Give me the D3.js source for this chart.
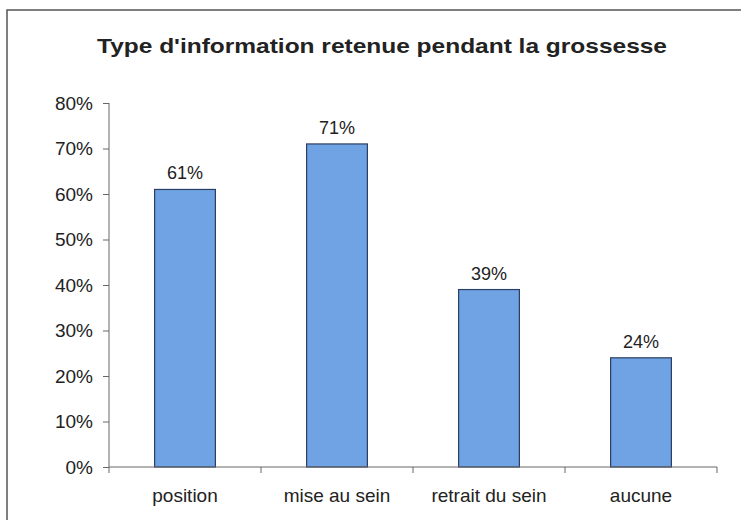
<!DOCTYPE html>
<html>
<head>
<meta charset="utf-8">
<script src="https://cdn.jsdelivr.net/npm/d3@7"></script>
<style>
  body { margin: 0; background: #fff; }
  text { font-family: Arial, "Liberation Sans", sans-serif; fill: #222; }
</style>
</head>
<body>
<script>
var categories = ["position", "mise au sein", "retrait du sein", "aucune"];
var values = [61, 71, 39, 24];
var yTicks = [0, 10, 20, 30, 40, 50, 60, 70, 80];
var title = "Type d'information retenue pendant la grossesse";

var w = 741, h = 520;
var svg = d3.select("body").append("svg")
  .attr("width", w)
  .attr("height", h);

svg.append("rect")
  .attr("width", w).attr("height", h)
  .attr("fill", "#fff");

// outer frame (runs off the right/bottom edge like the scan)
svg.append("rect")
  .attr("x", 7).attr("y", 10)
  .attr("width", 760).attr("height", 540)
  .attr("fill", "none")
  .attr("stroke", "#555")
  .attr("stroke-width", 1.5);

svg.append("text")
  .attr("x", 382).attr("y", 53)
  .attr("text-anchor", "middle")
  .attr("textLength", 570)
  .attr("lengthAdjust", "spacingAndGlyphs")
  .style("font-size", "21px")
  .style("font-weight", "bold")
  .text(title);

var x = d3.scaleBand()
  .domain(categories)
  .range([109, 717])
  .paddingInner(0.6)
  .paddingOuter(0.3);

var y = d3.scaleLinear()
  .domain([0, 80])
  .range([467, 103]);

// bars
svg.append("g").selectAll("rect")
  .data(values)
  .enter().append("rect")
  .attr("x", function (d, i) { return x(categories[i]); })
  .attr("y", function (d) { return y(d); })
  .attr("width", x.bandwidth())
  .attr("height", function (d) { return y(0) - y(d); })
  .attr("fill", "#6fa3e3")
  .attr("stroke", "#2c3e63")
  .attr("stroke-width", 1.2);

// value labels
svg.append("g").selectAll("text")
  .data(values)
  .enter().append("text")
  .attr("x", function (d, i) { return x(categories[i]) + x.bandwidth() / 2; })
  .attr("y", function (d) { return y(d) - 10; })
  .attr("text-anchor", "middle")
  .style("font-size", "18px")
  .text(function (d) { return d + "%"; });

// y axis
var yAxis = svg.append("g")
  .attr("transform", "translate(109,0)")
  .call(d3.axisLeft(y).tickValues(yTicks).tickSize(6).tickPadding(10)
    .tickFormat(function (d) { return d + "%"; }));
yAxis.selectAll("text").style("font-size", "19px").attr("fill", "#222");
yAxis.selectAll("line, path").attr("stroke", "#666");
yAxis.select(".domain").attr("d", "M0,103V467");

// x axis
var xAxis = svg.append("g")
  .attr("transform", "translate(0,467)");
xAxis.append("line")
  .attr("x1", 109).attr("x2", 717)
  .attr("stroke", "#666");
var bounds = [109].concat(categories.map(function (c) {
  return x(c) + x.bandwidth() / 2 + x.step() / 2;
}));
xAxis.selectAll(".tk")
  .data(bounds)
  .enter().append("line")
  .attr("x1", function (d) { return d; })
  .attr("x2", function (d) { return d; })
  .attr("y1", 0).attr("y2", 6)
  .attr("stroke", "#666");
xAxis.selectAll(".lbl")
  .data(categories)
  .enter().append("text")
  .attr("x", function (d) { return x(d) + x.bandwidth() / 2; })
  .attr("y", 35)
  .attr("text-anchor", "middle")
  .style("font-size", "19px")
  .text(function (d) { return d; });
</script>
</body>
</html>
